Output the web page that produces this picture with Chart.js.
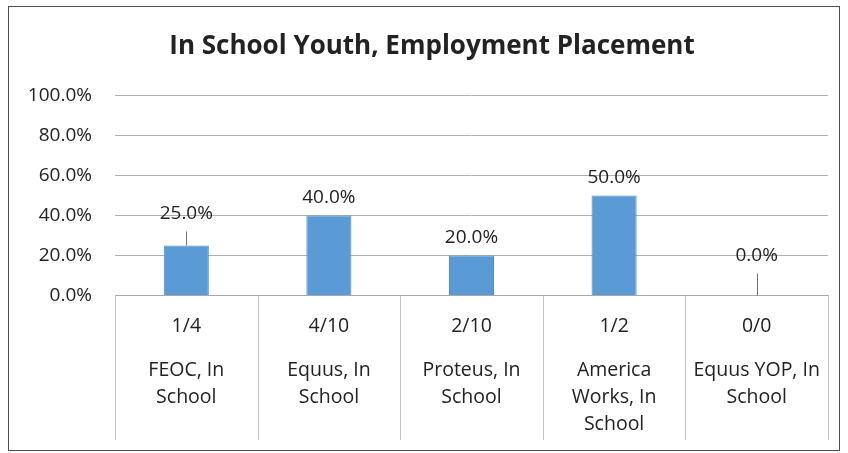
<!DOCTYPE html>
<html>
<head>
<meta charset="utf-8">
<script src="https://cdn.jsdelivr.net/npm/chart.js@4/dist/chart.umd.min.js"></script>
<style>
  html, body { margin: 0; padding: 0; background: #fff; }
  #wrap { position: relative; width: 848px; height: 453px; }
  #frame { position: absolute; left: 8px; top: 6px; width: 830px; height: 443px; border: 1.5px solid #505050; pointer-events: none; }
  canvas { position: absolute; left: 0; top: 0; }
</style>
</head>
<body>
<div id="wrap">
  <canvas id="c" width="848" height="453"></canvas>
  <div id="frame"></div>
</div>
<script>
// ---- data ----
const fractions = ['1/4', '4/10', '2/10', '1/2', '0/0'];
const programs = [['FEOC, In', 'School'], ['Equus, In', 'School'], ['Proteus, In', 'School'], ['America', 'Works, In', 'School'], ['Equus YOP, In', 'School']];
const placementRate = [0.25, 0.40, 0.20, 0.50, 0.00];
const errorTop = [0.32, null, null, null, 0.11];
const yTicks = [0, 0.2, 0.4, 0.6, 0.8, 1.0];

const FONT = '"Open Sans", Lato, sans-serif';

const extras = {
  id: 'extras',
  afterLayout(chart) {
    // let the y tick labels extend left of the layout padding (avoid clipping)
    const y = chart.scales.y;
    y.left = 0;
    y.width = y.right;
  },
  afterDatasetsDraw(chart) {
    const ctx = chart.ctx;
    const xs = chart.scales.x, ys = chart.scales.y;
    const meta = chart.getDatasetMeta(0);
    ctx.save();
    // error-bar stubs
    ctx.strokeStyle = '#707070';
    ctx.lineWidth = 1;
    errorTop.forEach((e, i) => {
      if (e == null) return;
      const x = Math.round(meta.data[i].x) + 0.5;
      ctx.beginPath();
      ctx.moveTo(x, ys.getPixelForValue(placementRate[i]));
      ctx.lineTo(x, ys.getPixelForValue(e));
      ctx.stroke();
    });
    // data labels
    ctx.fillStyle = '#222';
    ctx.font = '19px ' + FONT;
    ctx.textAlign = 'center';
    ctx.textBaseline = 'middle';
    placementRate.forEach((v, i) => {
      const top = Math.max(v, errorTop[i] == null ? v : errorTop[i]);
      ctx.fillText((v * 100).toFixed(1) + '%', meta.data[i].x, ys.getPixelForValue(top) - 18);
    });
    // category boundary lines in label area
    ctx.strokeStyle = '#c4c4c4';
    const bottom = chart.chartArea.bottom;
    const half = (xs.getPixelForValue(1) - xs.getPixelForValue(0)) / 2;
    for (let i = 0; i <= fractions.length; i++) {
      const x = Math.round(xs.getPixelForValue(0) - half + i * 2 * half) + 0.5;
      ctx.beginPath();
      ctx.moveTo(x, bottom);
      ctx.lineTo(x, 440);
      ctx.stroke();
    }
    ctx.restore();
  }
};

new Chart(document.getElementById('c'), {
  type: 'bar',
  data: {
    labels: fractions,
    datasets: [{
      data: placementRate,
      backgroundColor: '#5b9bd5',
      borderColor: '#4a8bcb',
      borderWidth: 1,
      barPercentage: 0.316,
      categoryPercentage: 1.0
    }]
  },
  options: {
    responsive: false,
    animation: false,
    events: [],
    layout: { padding: { top: 10, right: 20, bottom: 15, left: 36 } },
    plugins: {
      legend: { display: false },
      tooltip: { enabled: false },
      title: {
        display: true,
        text: 'In School Youth, Employment Placement',
        color: '#222',
        font: { family: FONT, size: 26, weight: 'bold', lineHeight: 1.2 },
        padding: { top: 21, bottom: 33 }
      }
    },
    scales: {
      y: {
        min: 0, max: 1,
        afterBuildTicks(scale) { scale.ticks = yTicks.map(v => ({ value: v })); },
        afterFit(scale) { scale.width = 79; },
        ticks: {
          color: '#222',
          font: { family: FONT, size: 19 },
          padding: 23,
          callback: v => (v * 100).toFixed(1) + '%'
        },
        grid: { color: '#b0b0b0', lineWidth: 1, drawTicks: false },
        border: { display: false }
      },
      x: {
        weight: 0,
        offset: true,
        ticks: { color: '#222', font: { family: FONT, size: 19.5, lineHeight: 1.2 }, padding: 19, maxRotation: 0 },
        grid: { display: false, drawTicks: false },
        border: { display: true, color: '#a8a8a8', width: 1 }
      },
      x2: {
        type: 'category',
        position: 'bottom',
        weight: 1,
        offset: true,
        labels: programs,
        ticks: { color: '#222', font: { family: FONT, size: 19.5, lineHeight: '27px' }, padding: 0, maxRotation: 0, autoSkip: false },
        grid: { display: false, drawTicks: false },
        border: { display: false }
      }
    }
  },
  plugins: [extras]
});
</script>
</body>
</html>
